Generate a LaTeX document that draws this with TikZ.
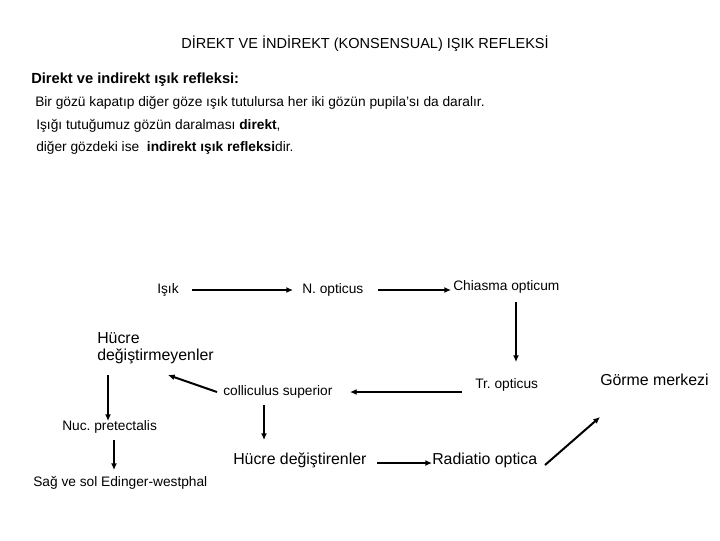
\documentclass[tikz,border=0pt]{standalone}
\usepackage{fontspec}
\setmainfont{Liberation Sans}
\usetikzlibrary{arrows.meta}
\frenchspacing
\tikzset{
  lbl/.style={inner sep=0pt, anchor=west, font=\fontsize{10.3}{12}\selectfont},
  big/.style={inner sep=0pt, anchor=west, font=\fontsize{11.9}{13}\selectfont},
  txt/.style={inner sep=0pt, anchor=west, font=\fontsize{10.3}{12}\selectfont},
  arr/.style={line width=1.5pt, -{Latex[length=5pt,width=4.5pt]}},
}
\begin{document}
\begin{tikzpicture}[x=0.75pt,y=-0.75pt]
\useasboundingbox (0,0) rectangle (720,540);
% header
\node[inner sep=0pt, font=\fontsize{10.9}{12}\selectfont] (title) at (365,44) {DİREKT VE İNDİREKT (KONSENSUAL) IŞIK REFLEKSİ};
\node[txt, font=\fontsize{11}{12}\selectfont\bfseries] (h1) at (31,80) {Direkt ve indirekt ışık refleksi:};
\node[txt] (l1) at (35,103) {Bir gözü kapatıp diğer göze ışık tutulursa her iki gözün pupila’sı da daralır.};
\node[txt] (l2) at (36,126) {Işığı tutuğumuz gözün daralması \textbf{direkt},};
\node[txt] (l3) at (36,148) {diğer gözdeki ise\ \ \textbf{indirekt ışık refleksi}dir.};
% diagram nodes
\node[lbl] (isik) at (157,290) {Işık};
\node[lbl] (nopt) at (302,290) {N. opticus};
\node[lbl] (chi) at (453,287) {Chiasma opticum};
\node[lbl] (tr) at (475,385) {Tr. opticus};
\node[big] (gm) at (600,380) {Görme merkezi};
\node[lbl] (coll) at (223,392) {colliculus superior};
\node[big, align=left, font=\fontsize{11.9}{12.75}\selectfont] (hdm) at (97,348) {Hücre\\değiştirmeyenler};
\node[lbl] (nuc) at (62,427) {Nuc. pretectalis};
\node[lbl] (sag) at (33,483) {Sağ ve sol Edinger-westphal};
\node[big] (hd) at (233,460) {Hücre değiştirenler};
\node[big] (rad) at (432,460) {Radiatio optica};
% connectors
\draw[arr] ([shift={(35,0)}]isik.west) -- ([shift={(-9,0)}]nopt.west);
\draw[arr] ([shift={(76,0)}]nopt.west) -- ([shift={(-2,3)}]chi.west);
\draw[arr] ([shift={(63,15)}]chi.west) -- ([shift={(41,-23)}]tr.west);
\draw[arr] ([shift={(-13,7)}]tr.west) -- ([shift={(127,0)}]coll.west);
\draw[arr] ([shift={(-6,0)}]coll.west) -- ([shift={(71,27)}]hdm.west);
\draw[arr] ([shift={(11,27)}]hdm.west) -- ([shift={(46,-6)}]nuc.west);
\draw[arr] ([shift={(52,13)}]nuc.west) -- ([shift={(81,-13)}]sag.west);
\draw[arr] ([shift={(41,13)}]coll.west) -- ([shift={(31,-20)}]hd.west);
\draw[arr] ([shift={(144,3)}]hd.west) -- ([shift={(0,3)}]rad.west);
\draw[arr] ([shift={(113,5)}]rad.west) -- ([shift={(0,37)}]gm.west);
\end{tikzpicture}
\end{document}
